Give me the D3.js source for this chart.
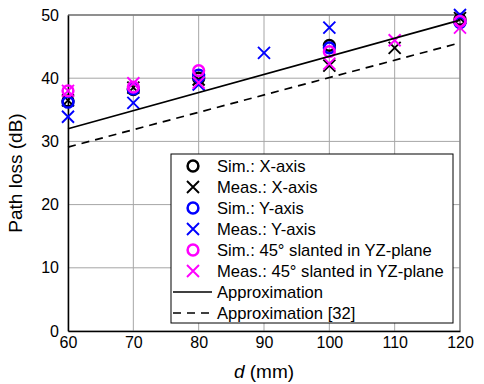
<!DOCTYPE html>
<html>
<head>
<meta charset="utf-8">
<script src="https://cdn.jsdelivr.net/npm/d3@7"></script>
<style>
  body { margin: 0; background: #fff; }
  svg { font-family: "Liberation Sans", Arial, sans-serif; }
</style>
</head>
<body>
<svg id="chart" width="484" height="384"></svg>
<script>
// data
const xTicks = [60, 70, 80, 90, 100, 110, 120];
const yTicks = [0, 10, 20, 30, 40, 50];

const simX = [[60, 36.4], [70, 38.2], [80, 40.0], [100, 45.2], [120, 49.3]];
const measX = [[60, 36.5], [70, 38.5], [80, 39.8], [100, 42.0], [110, 44.8], [120, 49.5]];
const simY = [[60, 36.2], [70, 38.3], [80, 40.5], [100, 44.8], [120, 48.8]];
const measY = [[60, 33.9], [70, 36.1], [80, 39.0], [90, 44.0], [100, 48.0], [120, 50.0]];
const sim45 = [[60, 38.0], [70, 38.6], [80, 41.2], [100, 44.2], [120, 49.0]];
const meas45 = [[60, 38.0], [70, 39.2], [80, 39.3], [100, 42.3], [110, 46.0], [120, 48.0]];

// both fits are straight lines in the figure
const approx = [[60, 32.0], [120, 49.2]];
const approx32 = [[60, 29.1], [120, 45.6]];

const series = [
  { name: "Sim.: X-axis", data: simX, color: "#000", shape: "o" },
  { name: "Meas.: X-axis", data: measX, color: "#000", shape: "x" },
  { name: "Sim.: Y-axis", data: simY, color: "#0000ff", shape: "o" },
  { name: "Meas.: Y-axis", data: measY, color: "#0000ff", shape: "x" },
  { name: "Sim.: 45\u00b0 slanted in YZ-plane", data: sim45, color: "#ff00ff", shape: "o" },
  { name: "Meas.: 45\u00b0 slanted in YZ-plane", data: meas45, color: "#ff00ff", shape: "x" }
];
const lines = [
  { name: "Approximation", data: approx, dash: null },
  { name: "Approximation [32]", data: approx32, dash: "8,6" }
];

const margin = { top: 15, right: 24, bottom: 53, left: 68 };
const width = 484 - margin.left - margin.right;
const height = 384 - margin.top - margin.bottom;

const svg = d3.select("#chart")
  .append("g")
  .attr("transform", `translate(${margin.left},${margin.top})`);

const x = d3.scaleLinear().domain([60, 120]).range([0, width]);
const y = d3.scaleLinear().domain([0, 50]).range([height, 0]);

// grid
svg.append("g")
  .selectAll("line")
  .data(xTicks)
  .enter().append("line")
  .attr("x1", d => x(d)).attr("x2", d => x(d))
  .attr("y1", 0).attr("y2", height)
  .attr("stroke", "#a6a6a6").attr("stroke-width", 1);
svg.append("g")
  .selectAll("line")
  .data(yTicks)
  .enter().append("line")
  .attr("x1", 0).attr("x2", width)
  .attr("y1", d => y(d)).attr("y2", d => y(d))
  .attr("stroke", "#a6a6a6").attr("stroke-width", 1);

// box top/right
svg.append("path")
  .attr("d", `M0,0H${width}V${height}`)
  .attr("fill", "none").attr("stroke", "#7a7a7a").attr("stroke-width", 1.3);

// axes
const xAxis = svg.append("g")
  .attr("transform", `translate(0,${height})`)
  .call(d3.axisBottom(x).tickValues(xTicks).tickSize(0).tickPadding(6));
const yAxis = svg.append("g")
  .call(d3.axisLeft(y).tickValues(yTicks).tickSize(0).tickPadding(9));
[xAxis, yAxis].forEach(a => {
  a.select(".domain").attr("stroke", "#000").attr("stroke-width", 1.5);
  a.selectAll("text").attr("font-size", 16).attr("fill", "#000")
    .attr("font-family", "Liberation Sans, Arial, sans-serif");
});

// markers
function drawMarker(g, shape, color, cx, cy) {
  if (shape === "o") {
    g.append("circle").attr("cx", cx).attr("cy", cy).attr("r", 5.4)
      .attr("fill", "none").attr("stroke", color).attr("stroke-width", 2.5);
  } else {
    const s = 6;
    g.append("path")
      .attr("d", `M${cx - s},${cy - s}L${cx + s},${cy + s}M${cx - s},${cy + s}L${cx + s},${cy - s}`)
      .attr("fill", "none").attr("stroke", color).attr("stroke-width", 1.9);
  }
}

series.forEach(s => {
  const g = svg.append("g");
  s.data.forEach(d => drawMarker(g, s.shape, s.color, x(d[0]), y(d[1])));
});

const line = d3.line().x(d => x(d[0])).y(d => y(d[1]));
lines.forEach(l => {
  svg.append("path")
    .datum(l.data)
    .attr("fill", "none")
    .attr("stroke", "#000")
    .attr("stroke-width", 1.7)
    .attr("stroke-dasharray", l.dash)
    .attr("d", line);
});

// legend
const lx = 171 - margin.left, ly = 154 - margin.top;
const legend = svg.append("g").attr("transform", `translate(${lx},${ly})`);
legend.append("rect")
  .attr("width", 282).attr("height", 169)
  .attr("fill", "#fff").attr("stroke", "#000").attr("stroke-width", 1);
const rowH = 21;
series.forEach((s, i) => {
  const cy = 12 + i * rowH;
  drawMarker(legend, s.shape, s.color, 22, cy);
  legend.append("text").attr("x", 46).attr("y", cy + 6)
    .attr("font-size", 16.6).text(s.name);
});
lines.forEach((l, j) => {
  const cy = 12 + (series.length + j) * rowH;
  legend.append("line")
    .attr("x1", 2).attr("x2", 41).attr("y1", cy).attr("y2", cy)
    .attr("stroke", "#000").attr("stroke-width", 1.6)
    .attr("stroke-dasharray", l.dash);
  legend.append("text").attr("x", 46).attr("y", cy + 6)
    .attr("font-size", 16.6).text(l.name);
});

// axis titles
const xt = svg.append("text")
  .attr("x", width / 2).attr("y", height + 47)
  .attr("text-anchor", "middle").attr("font-size", 19);
xt.append("tspan").attr("font-style", "italic").text("d");
xt.append("tspan").text(" (mm)");

svg.append("text")
  .attr("transform", `translate(-46,${height / 2}) rotate(-90)`)
  .attr("text-anchor", "middle").attr("font-size", 19)
  .text("Path loss (dB)");
</script>
</body>
</html>
